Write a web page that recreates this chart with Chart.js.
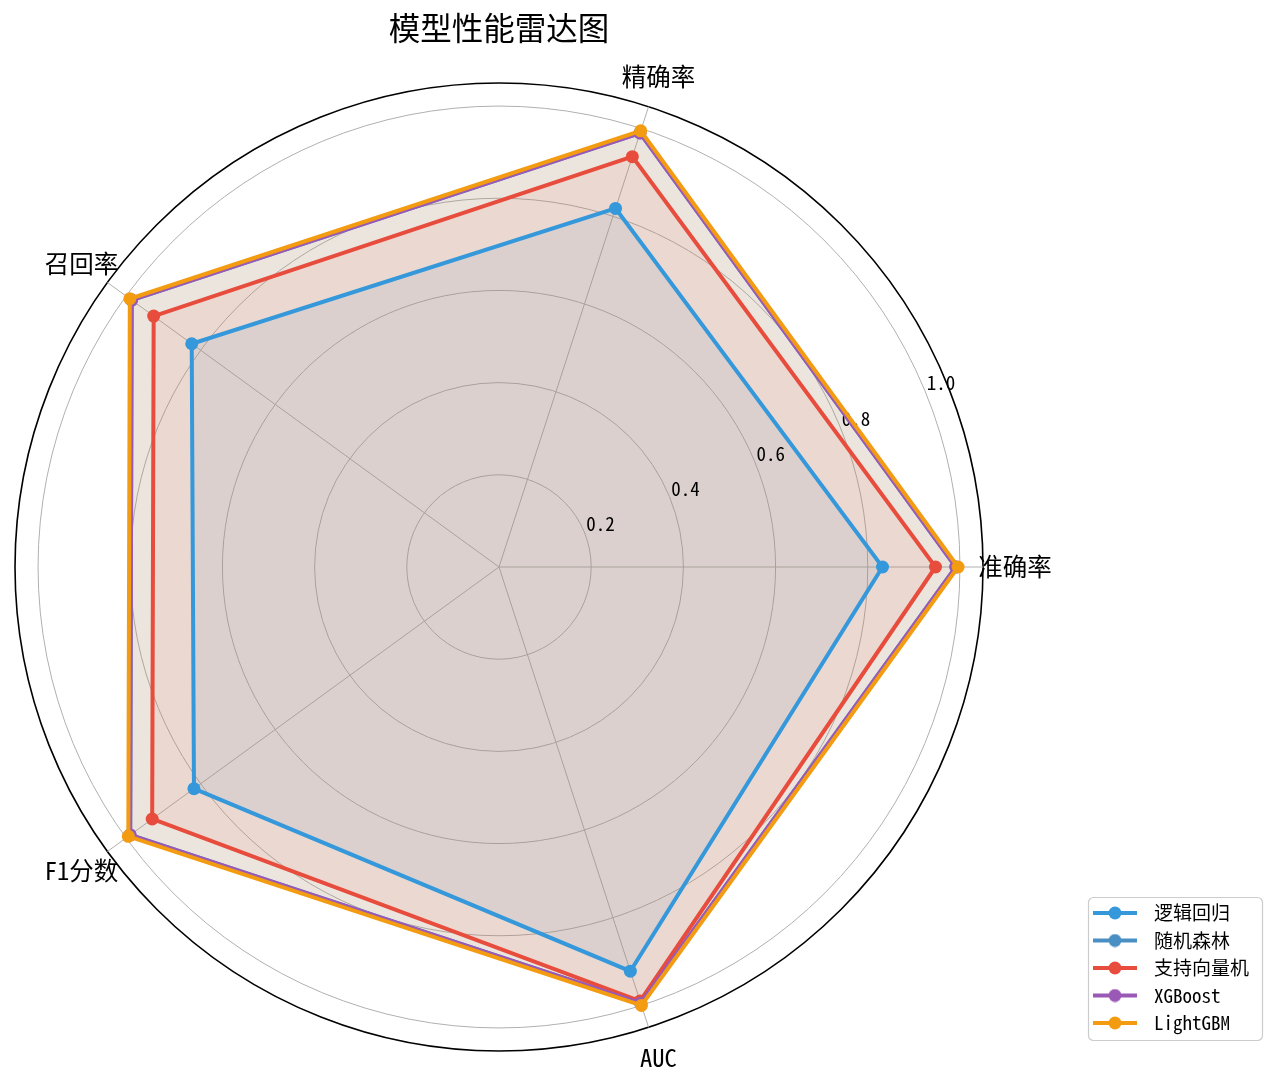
<!DOCTYPE html>
<html><head><meta charset="utf-8">
<script src="https://cdn.jsdelivr.net/npm/chart.js@4"></script>
<style>html,body{margin:0;padding:0;background:#fff;} #wrap{width:1280px;height:1078px;position:relative;}</style>
</head><body><div id="wrap"><canvas id="c"></canvas></div>
<script>
const axisLabels = ['准确率', 'AUC', 'F1分数', '召回率', '精确率'];
const modelNames = ['逻辑回归', '随机森林', '支持向量机', 'XGBoost', 'LightGBM'];
const lrValues   = [0.832, 0.922, 0.818, 0.824, 0.818];
const rfValues   = [0.991, 0.995, 0.989, 0.985, 0.990];
const svmValues  = [0.947, 0.990, 0.930, 0.926, 0.936];
const xgbValues  = [0.991, 0.995, 0.989, 0.985, 0.990];
const lgbmValues = [0.996, 1.000, 0.994, 0.990, 0.995];
const tickValues = [0.2, 0.4, 0.6, 0.8, 1.0];
const tickLabels = ['0.2', '0.4', '0.6', '0.8', '1.0'];
const radialMax = 1.05;
const titleText = '模型性能雷达图';
const colors = ['#3498db', '#4a8fc4', '#e74c3c', '#9b59b6', '#f39c12'];
const fillAlpha = [0.1, 0.1, 0.08, 0.04, 0.11];
const seriesValues = [lrValues, rfValues, svmValues, xgbValues, lgbmValues];

const FONT = '"Noto Sans Mono CJK SC", "Noto Sans CJK SC", "Noto Sans", sans-serif';

function rgba(hex, a) {
  const n = parseInt(hex.slice(1), 16);
  return `rgba(${(n >> 16) & 255},${(n >> 8) & 255},${n & 255},${a})`;
}
function legendIcon(color) {
  const cv = document.createElement('canvas');
  cv.width = 44; cv.height = 14;
  const g = cv.getContext('2d');
  g.strokeStyle = color; g.lineWidth = 4;
  g.beginPath(); g.moveTo(0, 7); g.lineTo(44, 7); g.stroke();
  g.fillStyle = color; g.beginPath(); g.arc(22, 7, 6.5, 0, Math.PI * 2); g.fill();
  return cv;
}

const datasets = modelNames.map((name, i) => ({
  label: name,
  data: seriesValues[i],
  borderColor: colors[i],
  backgroundColor: rgba(colors[i], fillAlpha[i]),
  borderWidth: 4,
  pointRadius: 6.5,
  pointBackgroundColor: colors[i],
  pointBorderWidth: 0,
  fill: 'origin',
  order: modelNames.length - 1 - i
}));

const overlay = {
  id: 'overlay',
  beforeDatasetsDraw(chart) {
    const s = chart.scales.r, ctx = chart.ctx;
    ctx.save();
    ctx.font = '19px ' + FONT; ctx.fillStyle = '#000';
    ctx.textAlign = 'left'; ctx.textBaseline = 'bottom';
    const a = 22.5 * Math.PI / 180;
    tickValues.forEach((v, i) => {
      const d = s.getDistanceFromCenterForValue(v);
      ctx.fillText(tickLabels[i], s.xCenter + d * Math.cos(a) + 2, s.yCenter - d * Math.sin(a) + 2);
    });
    ctx.restore();
  },
  afterDraw(chart) {
    const s = chart.scales.r, ctx = chart.ctx;
    ctx.save();
    ctx.font = '24.5px ' + FONT; ctx.fillStyle = '#000';
    ctx.textAlign = 'center'; ctx.textBaseline = 'middle';
    axisLabels.forEach((lab, i) => {
      const p = s.getPointPosition(i, s.drawingArea + 32);
      ctx.fillText(lab, p.x, p.y);
    });
    ctx.font = '31.5px ' + FONT;
    ctx.fillText(titleText, s.xCenter, 28);
    const hb = chart.legend.legendHitBoxes;
    if (hb && hb.length) {
      const l = Math.min(...hb.map(h => h.left)) + 2.5;
      const t = Math.min(...hb.map(h => h.top)) - 6.5;
      const r = Math.max(...hb.map(h => h.left + h.width)) + 13;
      const b = Math.max(...hb.map(h => h.top + h.height)) + 7.5;
      ctx.strokeStyle = '#cccccc'; ctx.lineWidth = 1.2;
      ctx.beginPath(); ctx.roundRect(l + 0.5, t + 0.5, r - l, b - t, 5); ctx.stroke();
    }
    ctx.restore();
  }
};

new Chart(document.getElementById('c'), {
  type: 'radar',
  data: { labels: axisLabels, datasets },
  options: {
    responsive: true, maintainAspectRatio: false, animation: false, events: [],
    layout: { padding: { right: 21, bottom: 37, top: 0, left: 0 } },
    elements: { line: { tension: 0 } },
    scales: {
      r: {
        min: 0, max: radialMax, startAngle: 90,
        afterBuildTicks: sc => { sc.ticks = [0, ...tickValues, radialMax].map(v => ({ value: v })); },
        afterFit: sc => { sc.xCenter = 499; sc.yCenter = 567; sc.drawingArea = 484; },
        ticks: { display: false },
        pointLabels: { display: false },
        grid: {
          circular: true,
          color: c => (c.tick && c.tick.value >= radialMax ? '#000000' : '#b0b0b0'),
          lineWidth: c => (c.tick && c.tick.value >= radialMax ? 1.6 : 1)
        },
        angleLines: { color: '#b0b0b0', lineWidth: 1 }
      }
    },
    plugins: {
      filler: { drawTime: 'beforeDatasetsDraw' },
      tooltip: { enabled: false },
      title: { display: false },
      legend: {
        position: 'right', align: 'end',
        labels: {
          usePointStyle: true, pointStyleWidth: 59, padding: 8.5, color: '#000',
          font: { size: 19, family: FONT },
          generateLabels: chart => chart.data.datasets.map((ds, i) => ({
            text: ds.label, pointStyle: legendIcon(ds.borderColor),
            fillStyle: ds.borderColor, strokeStyle: ds.borderColor, fontColor: '#000',
            lineWidth: 0, hidden: false, datasetIndex: i
          }))
        }
      }
    }
  },
  plugins: [overlay]
});
</script>
</body></html>
